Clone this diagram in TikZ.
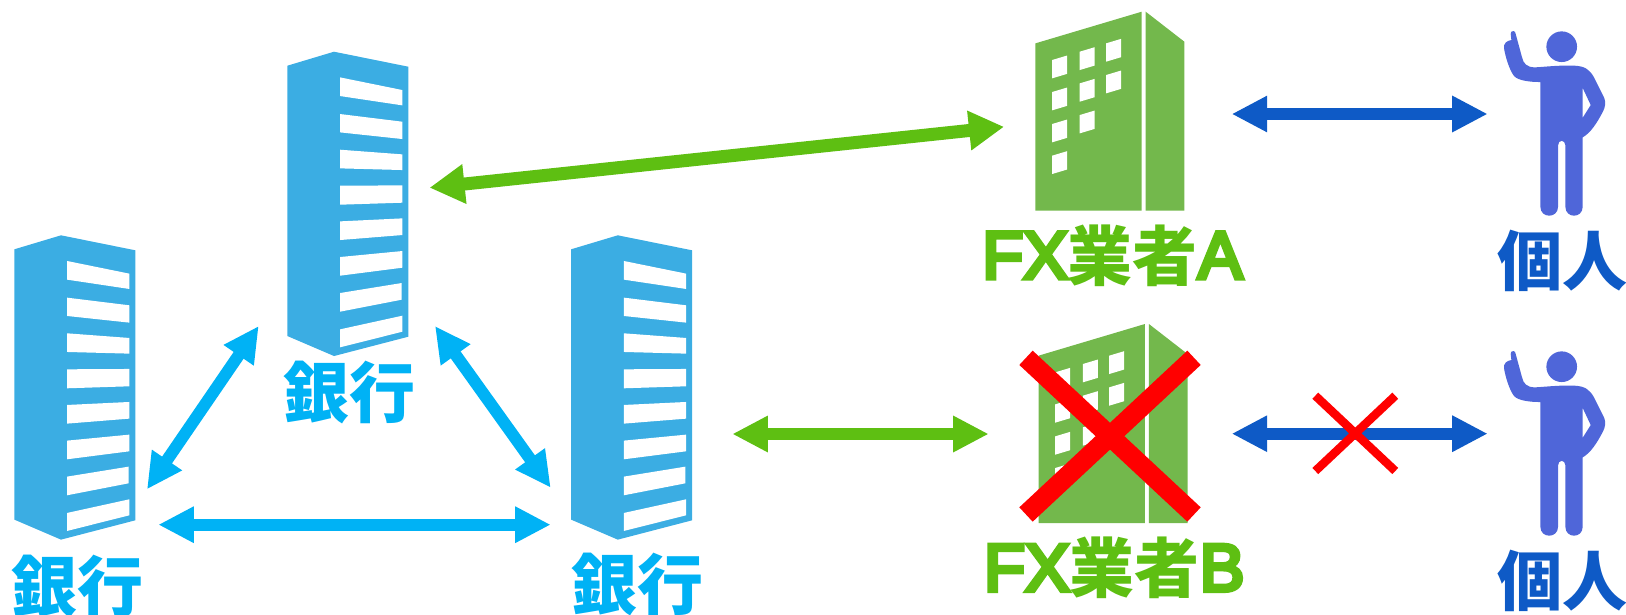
\documentclass[tikz,border=0pt]{standalone}
\usepackage{fontspec}
\setmainfont{Liberation Sans}
\font\cjkbig="Noto Sans CJK JP/B" at 66pt
\font\cjkmid="Noto Sans CJK JP/B" at 65pt
\font\latbig="Liberation Sans:embolden=6.5" at 67pt
\usetikzlibrary{arrows.meta}
\definecolor{bankc}{HTML}{3BADE3}
\definecolor{skyc}{HTML}{00B2F5}
\definecolor{grnb}{HTML}{73B84C}
\definecolor{grna}{HTML}{5EBF12}
\definecolor{bluea}{HTML}{0E5AC6}
\definecolor{persc}{HTML}{4F66D9}
\tikzset{
  twoway/.style={line width=12pt,line cap=butt,arrows={Triangle[length=35.5pt,width=34pt]-Triangle[length=35.5pt,width=34pt]}},
  twowaywide/.style={line width=13pt,line cap=butt,arrows={Triangle[length=35pt,width=37.5pt]-Triangle[length=35pt,width=37.5pt]}},
  lbl/.style={anchor=base,inner sep=0pt},
  cross/.style={red,line cap=butt},
  bankpic/.pic={
    \begin{scope}[scale=1/3,shift={(-192,-35)}]
      \fill[bankc] (52,77)--(192,35)--(415,80)--(415,890)--(192,948)--(52,888)--cycle;
      \fill[white] (210,112)--(397,150)--(397,196)--(210,168)--cycle;
      \fill[white] (210,222)--(397,245)--(397,297)--(210,277)--cycle;
      \fill[white] (210,329)--(397,343)--(397,390)--(210,385)--cycle;
      \fill[white] (210,437)--(397,436)--(397,488)--(210,494)--cycle;
      \fill[white] (210,544)--(397,535)--(397,585)--(210,600)--cycle;
      \fill[white] (210,651)--(397,633)--(397,683)--(210,707)--cycle;
      \fill[white] (210,759)--(395,729)--(395,779)--(210,815)--cycle;
      \fill[white] (210,868)--(397,827)--(397,875)--(210,922)--cycle;
    \end{scope}
  },
  firmpic/.pic={
    \begin{scope}[scale=1/3,shift={(-365,-35)}]
      \fill[grnb] (46,130)--(365,35)--(365,632)--(46,632)--cycle;
      \fill[grnb] (377,35)--(493,125)--(493,632)--(377,632)--cycle;
      \foreach \wx/\wy in {96/180,96/276,96/372,96/467,179/155,179/250,179/345,258/130,258/225}{
        \fill[white] (\wx,\wy)--++(45,-13.5)--++(0,55)--++(-45,13.5)--cycle;
      }
    \end{scope}
  },
  personpic/.pic={
    \begin{scope}[scale=1/3,shift={(-245,-80)}]
      \fill[persc] (245,80) circle[radius=46];
      \fill[persc,even odd rule]
        (100,33) .. controls (105,33) and (106,37) .. (107,42)
        -- (126,112) .. controls (130,130) and (140,142) .. (165,142)
        .. controls (200,140) and (240,135) .. (285,137)
        .. controls (315,139) and (328,148) .. (342,172)
        -- (372,232) .. controls (378,246) and (376,262) .. (368,276)
        .. controls (350,310) and (332,338) .. (308,352)
        -- (308,560) .. controls (308,596) and (256,596) .. (256,560)
        -- (256,376) .. controls (256,358) and (234,358) .. (234,376)
        -- (234,560) .. controls (234,596) and (181,596) .. (181,560)
        -- (181,186)
        .. controls (150,186) and (115,182) .. (102,168)
        .. controls (88,150) and (76,110) .. (72,85)
        .. controls (70,70) and (80,62) .. (94,60)
        -- (92,42) .. controls (91,36) and (95,33) .. (100,33) -- cycle
        (308,204) -- (332,255) -- (308,293) -- cycle;
    \end{scope}
  }
}
\begin{document}
\begin{tikzpicture}[x=1pt,y=-1pt]
\useasboundingbox (0,0) rectangle (1626,614);
% buildings and people
\pic at (334,51.7) {bankpic};
\pic at (61,235.3) {bankpic};
\pic at (617.8,235.3) {bankpic};
\pic at (1141.7,11.7) {firmpic};
\pic at (1144.9,324) {firmpic};
\pic at (1561.7,46.7) {personpic};
\pic at (1561.7,366.7) {personpic};
% labels
\node[lbl,text=skyc] (bankT) at (349.5,417) {\cjkbig 銀行};
\node[lbl,text=skyc] (bankL) at (77.5,611.5) {\cjkbig 銀行};
\node[lbl,text=skyc] (bankR) at (637,609) {\cjkbig 銀行};
\node[lbl,text=grna] (firmA) at (1112.5,278.5) {\latbig FX\raisebox{-1.5pt}{\cjkmid 業者}\latbig A};
\node[lbl,text=grna] (firmB) at (1114.3,590.9) {\latbig FX\raisebox{-1.5pt}{\cjkmid 業者}\latbig B};
\node[lbl,text=bluea] (persA) at (1562,285) {\cjkmid 個人};
\node[lbl,text=bluea] (persB) at (1562,605) {\cjkmid 個人};
% connector ends
\coordinate (tl1) at (258.7,326);   \coordinate (tl2) at (147,489.3);
\coordinate (tr1) at (435,326);     \coordinate (tr2) at (550.7,487.7);
\coordinate (bl) at (158.3,524.7);  \coordinate (br) at (550.7,524.7);
\coordinate (g1a) at (429.6,187.7); \coordinate (g1b) at (1004,126.8);
\coordinate (g2a) at (732.3,434);   \coordinate (g2b) at (988.7,434);
\coordinate (b1a) at (1231.7,114);  \coordinate (b1b) at (1487.7,114);
\coordinate (b2a) at (1231.7,433.7);\coordinate (b2b) at (1487.7,433.7);
\draw[twoway,skyc] (tl1) -- (tl2);
\draw[twoway,skyc] (tr1) -- (tr2);
\draw[twoway,skyc] (bl) -- (br);
\draw[twowaywide,grna] (g1a) -- (g1b);
\draw[twoway,grna] (g2a) -- (g2b);
\draw[twoway,bluea] (b1a) -- (b1b);
\draw[twoway,bluea] (b2a) -- (b2b);
% crosses
\coordinate (x1a) at (1026,357.8);  \coordinate (x1b) at (1194,514.5);
\coordinate (x1c) at (1194,357.8);  \coordinate (x1d) at (1026,514.5);
\draw[cross,line width=19.6pt] (x1a) -- (x1b);
\draw[cross,line width=19.6pt] (x1c) -- (x1d);
\coordinate (x2a) at (1315.3,395.7);\coordinate (x2b) at (1395.3,471);
\coordinate (x2c) at (1395.3,395.7);\coordinate (x2d) at (1315.3,471);
\draw[cross,line width=8.5pt] (x2a) -- (x2b);
\draw[cross,line width=8.5pt] (x2c) -- (x2d);
\end{tikzpicture}
\end{document}
